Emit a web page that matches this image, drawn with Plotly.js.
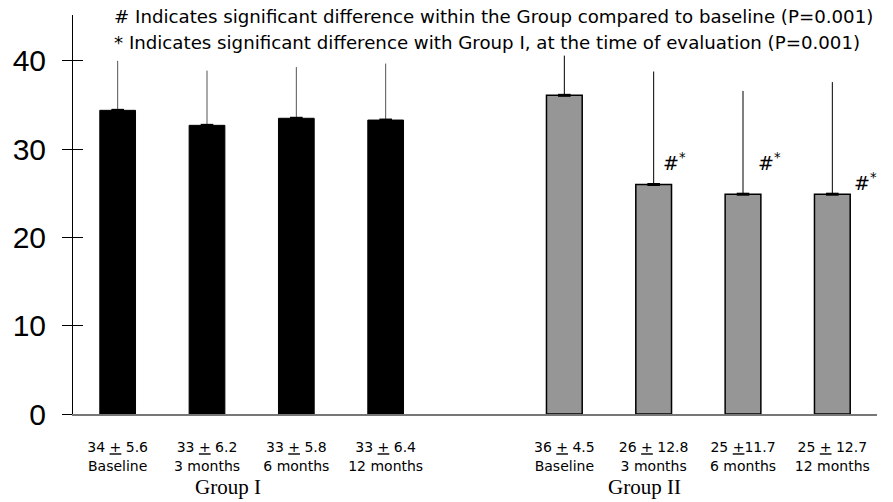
<!DOCTYPE html>
<html>
<head>
<meta charset="utf-8">
<script src="https://cdn.plot.ly/plotly-3.0.1.min.js"></script>
<style>html,body{margin:0;padding:0;background:#fff;}#chart{width:893px;height:502px;}</style>
</head>
<body>
<div id="chart"></div>
<script>
// ---- data ----
const timeLabels = ['Baseline', '3 months', '6 months', '12 months'];
const groupNames = ['Group I', 'Group II'];
const groupIMeans = [34.4, 32.7, 33.5, 33.3];
const groupISD = [5.6, 6.2, 5.8, 6.4];
const groupIStatText = ['34 <u>+</u> 5.6', '33 <u>+</u> 6.2', '33 <u>+</u> 5.8', '33 <u>+</u> 6.4'];
const groupIIMeans = [36.1, 26.0, 24.9, 24.9];
const groupIISD = [4.5, 12.8, 11.7, 12.7];
const groupIIStatText = ['36 <u>+</u> 4.5', '26 <u>+</u> 12.8', '25 <u>+</u>11.7', '25 <u>+</u> 12.7'];
const groupIIMarks = ['', '#<sup>*</sup>', '#<sup>*</sup>', '#<sup>*</sup>'];
const yTicks = [0, 10, 20, 30, 40];
const noteLines = [
  '# Indicates significant difference within the Group compared to baseline (P=0.001)',
  '* Indicates significant difference with Group I, at the time of evaluation (P=0.001)'
];

// ---- slots ----
const n = timeLabels.length;
const xI = timeLabels.map((_, i) => i);
const xII = timeLabels.map((_, i) => i + n + 1);
const zeros = timeLabels.map(() => 0);

const SANS = 'Liberation Sans, Arial, sans-serif';
const WIDE = 'DejaVu Sans, Verdana, sans-serif';
const SERIF = 'Liberation Serif, Times New Roman, serif';

const traces = [
  {
    type: 'bar', x: xI, y: groupIMeans, width: 0.4,
    marker: {color: '#000000', line: {color: '#000000', width: 1}},
    error_y: {type: 'data', array: groupISD, arrayminus: zeros, symmetric: false,
              color: '#555555', thickness: 1, width: 0},
    hoverinfo: 'skip', showlegend: false
  },
  {
    type: 'bar', x: xII, y: groupIIMeans, width: 0.4,
    marker: {color: '#969696', line: {color: '#000000', width: 1.5}},
    error_y: {type: 'data', array: groupIISD, arrayminus: zeros, symmetric: false,
              color: '#000000', thickness: 1, width: 0},
    hoverinfo: 'skip', showlegend: false
  },
  {
    type: 'scatter', mode: 'markers', x: xI.concat(xII), y: groupIMeans.concat(groupIIMeans),
    marker: {symbol: 'line-ew', size: 9, line: {color: '#000000', width: 3}},
    hoverinfo: 'skip', showlegend: false
  },
  { // invisible trace for the crossing inner tick half
    type: 'scatter', mode: 'markers', x: [xI[0]], y: [0], yaxis: 'y2',
    marker: {opacity: 0}, hoverinfo: 'skip', showlegend: false
  }
];

const annotations = [];
noteLines.forEach((t, i) => {
  annotations.push({
    text: t, xref: 'paper', yref: 'paper', x: 0.048, y: i === 0 ? 0.995 : 0.932,
    xanchor: 'left', yanchor: 'middle', showarrow: false,
    font: {family: WIDE, size: 18.2, color: '#000'}
  });
});
const markOffsets = [[0, 0], [0.23, 2.6], [0.30, 3.7], [0.37, 1.4]];
groupIIMarks.forEach((m, i) => {
  if (!m) return;
  annotations.push({
    text: m, xref: 'x', yref: 'y', x: xII[i] + markOffsets[i][0], y: groupIIMeans[i] + markOffsets[i][1],
    xanchor: 'center', yanchor: 'middle', showarrow: false,
    font: {family: WIDE, size: 19, color: '#000'}
  });
});
annotations.push({
  text: groupNames[0], xref: 'x', yref: 'paper', x: (xI[1] + xI[2]) / 2 - 0.27, y: -0.183,
  xanchor: 'center', yanchor: 'middle', showarrow: false,
  font: {family: SERIF, size: 21, color: '#000'}
});
annotations.push({
  text: groupNames[1], xref: 'x', yref: 'paper', x: (xII[1] + xII[2]) / 2 - 0.6, y: -0.183,
  xanchor: 'center', yanchor: 'middle', showarrow: false,
  font: {family: SERIF, size: 21, color: '#000'}
});

const tickvals = xI.concat(xII);
const ticktext = groupIStatText.map((s, i) => s + '<br>' + timeLabels[i])
  .concat(groupIIStatText.map((s, i) => s + '<br>' + timeLabels[i]));

const layout = {
  width: 893, height: 502,
  margin: {l: 73, r: 16, t: 15, b: 88},
  paper_bgcolor: '#ffffff', plot_bgcolor: '#ffffff',
  barmode: 'overlay',
  showlegend: false,
  xaxis: {
    range: [-0.5, 8.5], tickvals: tickvals, ticktext: ticktext,
    ticks: '', showgrid: false, zeroline: false,
    showline: true, linecolor: '#777777', linewidth: 1.5,
    tickfont: {family: WIDE, size: 14, color: '#000'},
    ticklabelstandoff: 20, fixedrange: true
  },
  yaxis: {
    range: [0, 45.2], tickvals: yTicks, ticks: 'outside', ticklen: 10, tickwidth: 1, tickcolor: '#000',
    showgrid: false, zeroline: false, showline: true, linecolor: '#000', linewidth: 1,
    tickfont: {family: SANS, size: 30, color: '#000'}, ticklabelstandoff: 10, fixedrange: true
  },
  yaxis2: {
    overlaying: 'y', side: 'left', range: [0, 45.2], tickvals: yTicks, ticks: 'inside', ticklen: 10,
    tickwidth: 1, tickcolor: '#000', showticklabels: false, showgrid: false, zeroline: false,
    showline: false, fixedrange: true
  },
  annotations: annotations
};

Plotly.newPlot('chart', traces, layout, {displayModeBar: false, staticPlot: true});
</script>
</body>
</html>
